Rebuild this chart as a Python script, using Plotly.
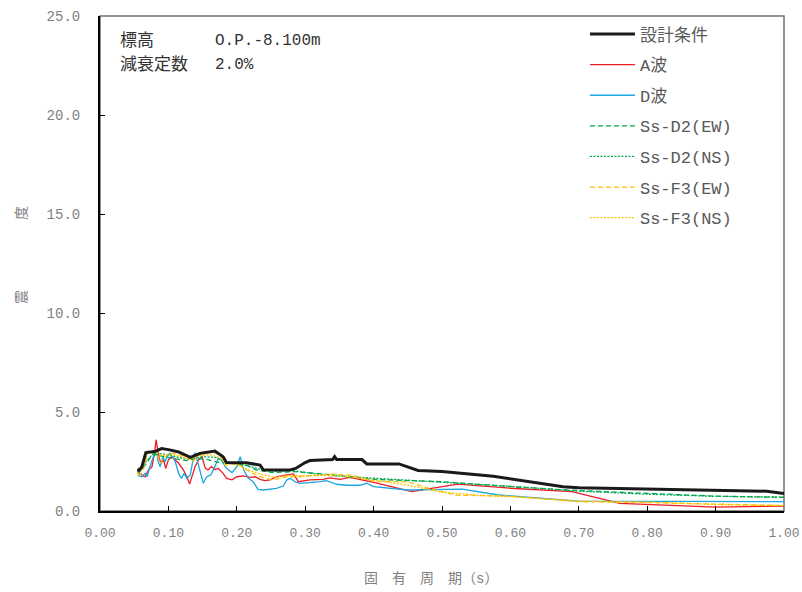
import plotly.graph_objects as go

# ---- data ----
T_design = [0.055, 0.061, 0.067, 0.080, 0.090, 0.100, 0.115, 0.132, 0.146, 0.168, 0.180, 0.185, 0.214, 0.234,
            0.239, 0.278, 0.286, 0.300, 0.307, 0.340, 0.343, 0.346, 0.383, 0.390, 0.437, 0.465, 0.500, 0.575,
            0.677, 0.700, 0.975, 1.000]
v_design = [2.0, 2.2, 2.95, 3.0, 3.15, 3.1, 2.98, 2.71, 2.91, 3.03, 2.74, 2.45, 2.44, 2.32,
            2.07, 2.07, 2.15, 2.45, 2.55, 2.6, 2.75, 2.6, 2.6, 2.38, 2.38, 2.05, 2.0, 1.75,
            1.23, 1.18, 1.0, 0.88]

T_A = [0.055, 0.061, 0.066, 0.071, 0.076, 0.080, 0.082, 0.084, 0.086, 0.089, 0.093, 0.096, 0.100, 0.105,
       0.110, 0.115, 0.122, 0.127, 0.131, 0.134, 0.139, 0.144, 0.149, 0.154, 0.158, 0.163, 0.168, 0.173,
       0.180, 0.185, 0.193, 0.200, 0.210, 0.219, 0.227, 0.234, 0.241, 0.249, 0.258, 0.273, 0.283, 0.290,
       0.307, 0.326, 0.336, 0.351, 0.365, 0.400, 0.456, 0.523, 0.600, 0.690, 0.760, 0.900, 1.000]
v_A = [2.0, 1.82, 1.73, 2.07, 2.24, 3.0, 3.6, 3.17, 2.74, 2.41, 2.58, 2.15, 2.58, 2.74,
       2.58, 2.41, 2.07, 1.73, 1.36, 1.73, 2.24, 2.58, 2.74, 2.15, 2.07, 2.24, 2.1, 2.15,
       1.9, 1.65, 1.57, 1.73, 1.77, 1.7, 1.73, 1.6, 1.53, 1.57, 1.73, 1.82, 1.87, 1.48,
       1.57, 1.6, 1.67, 1.6, 1.7, 1.45, 0.98, 1.36, 1.15, 0.98, 0.39, 0.2, 0.25]

T_D = [0.055, 0.061, 0.066, 0.069, 0.073, 0.078, 0.083, 0.085, 0.088, 0.092, 0.095, 0.098, 0.102, 0.106,
       0.110, 0.115, 0.119, 0.123, 0.127, 0.132, 0.135, 0.139, 0.142, 0.146, 0.151, 0.156, 0.162, 0.168,
       0.173, 0.178, 0.183, 0.188, 0.193, 0.200, 0.205, 0.210, 0.217, 0.224, 0.231, 0.239, 0.249, 0.258,
       0.268, 0.273, 0.278, 0.285, 0.292, 0.307, 0.322, 0.331, 0.346, 0.361, 0.380, 0.390, 0.400, 0.450,
       0.530, 0.580, 0.700, 1.000]
v_D = [1.8, 1.73, 1.9, 1.73, 2.24, 2.74, 2.91, 2.49, 2.24, 2.74, 2.49, 2.74, 2.91, 2.74,
       2.49, 1.9, 1.65, 1.9, 1.65, 1.82, 2.41, 2.95, 2.58, 2.07, 1.4, 1.73, 1.82, 2.24,
       2.66, 2.58, 2.24, 2.07, 1.94, 2.24, 2.74, 2.07, 1.65, 1.48, 1.09, 1.06, 1.09, 1.14,
       1.26, 1.57, 1.65, 1.48, 1.4, 1.43, 1.48, 1.53, 1.35, 1.3, 1.3, 1.4, 1.23, 1.06,
       1.1, 0.82, 0.5, 0.47]

T_D2EW = [0.055, 0.061, 0.071, 0.078, 0.093, 0.112, 0.127, 0.141, 0.156, 0.175, 0.200, 0.214, 0.229, 0.253,
          0.283, 0.317, 0.365, 0.400, 0.500, 0.600, 0.700, 0.800, 0.900, 1.000]
v_D2EW = [1.9, 2.07, 2.58, 2.91, 2.74, 2.61, 2.54, 2.66, 2.61, 2.44, 2.37, 2.32, 2.07, 1.94,
          1.99, 1.9, 1.73, 1.6, 1.48, 1.23, 1.03, 0.88, 0.75, 0.69]

T_D2NS = [0.055, 0.065, 0.075, 0.090, 0.110, 0.130, 0.150, 0.170, 0.180, 0.200, 0.220, 0.240, 0.260, 0.280,
          0.300, 0.330, 0.370, 0.400, 0.500, 0.600, 0.700, 0.800, 0.900, 1.000]
v_D2NS = [2.1, 2.4, 2.8, 2.9, 2.75, 2.6, 2.75, 2.7, 2.5, 2.4, 2.25, 2.05, 2.0, 2.05,
          1.95, 1.8, 1.72, 1.65, 1.45, 1.25, 1.0, 0.85, 0.74, 0.7]

T_F3EW = [0.055, 0.061, 0.066, 0.069, 0.076, 0.083, 0.088, 0.093, 0.100, 0.107, 0.117, 0.127, 0.136, 0.141,
          0.151, 0.161, 0.170, 0.178, 0.183, 0.200, 0.214, 0.234, 0.253, 0.273, 0.292, 0.326, 0.340, 0.370,
          0.400, 0.450, 0.480, 0.520, 0.600, 0.700, 0.800, 0.900, 1.000]
v_F3EW = [1.8, 1.9, 2.41, 3.0, 3.08, 2.91, 2.41, 2.66, 2.91, 2.91, 2.83, 2.74, 2.49, 2.74,
          2.91, 2.95, 2.91, 2.74, 2.32, 2.41, 2.07, 1.73, 1.57, 1.73, 1.73, 1.82, 1.87, 1.8,
          1.5, 1.48, 1.15, 0.8, 0.75, 0.47, 0.43, 0.35, 0.28]

T_F3NS = [0.055, 0.062, 0.070, 0.080, 0.090, 0.100, 0.115, 0.130, 0.145, 0.160, 0.175, 0.185, 0.200, 0.215,
          0.235, 0.255, 0.275, 0.300, 0.330, 0.360, 0.400, 0.450, 0.500, 0.550, 0.600, 0.700, 0.800, 0.900,
          1.000]
v_F3NS = [1.9, 2.3, 2.9, 3.0, 2.8, 2.85, 2.8, 2.6, 2.8, 2.85, 2.7, 2.4, 2.35, 2.1,
          1.85, 1.7, 1.8, 1.78, 1.8, 1.75, 1.55, 1.3, 0.95, 0.8, 0.72, 0.5, 0.45, 0.32, 0.27]

series_names = ["設計条件", "A波", "D波", "Ss-D2(EW)", "Ss-D2(NS)", "Ss-F3(EW)", "Ss-F3(NS)"]
x_ticks = [0.0, 0.1, 0.2, 0.3, 0.4, 0.5, 0.6, 0.7, 0.8, 0.9, 1.0]
y_ticks = [0.0, 5.0, 10.0, 15.0, 20.0, 25.0]

FONT = "Liberation Mono, Noto Sans CJK JP, monospace"
GRAY = "#7f7f7f"

styles = [
    (T_design, v_design, "#1a1a1a", 3.0, "solid"),
    (T_A, v_A, "#ee1c25", 1.3, "solid"),
    (T_D, v_D, "#1ca6e0", 1.3, "solid"),
    (T_D2EW, v_D2EW, "#00a84f", 1.3, "5px,3px"),
    (T_D2NS, v_D2NS, "#00a84f", 1.3, "2px,1.5px"),
    (T_F3EW, v_F3EW, "#ffc000", 1.3, "5px,3px"),
    (T_F3NS, v_F3NS, "#ffc000", 1.3, "2px,1.5px"),
]

fig = go.Figure()
order = [1, 2, 3, 4, 5, 6, 0]
for i in order:
    xs, ys, col, w, dash = styles[i]
    fig.add_trace(go.Scatter(
        x=xs, y=ys, mode="lines", name=series_names[i],
        line=dict(color=col, width=w, dash=dash),
        legendgroup=f"g{i}", legendrank=i + 1,
    ))

ann_font = dict(size=17, color="#333333", family=FONT)
fig.update_layout(
    width=802, height=592,
    margin=dict(l=100, r=18, t=16, b=81, autoexpand=False),
    paper_bgcolor="white", plot_bgcolor="white",
    font=dict(family=FONT, size=14, color=GRAY),
    showlegend=True,
    legend=dict(
        x=0.709, y=0.999, xanchor="left", yanchor="top",
        bgcolor="rgba(0,0,0,0)", font=dict(size=17, color="#595959", family=FONT),
        tracegroupgap=5.5, traceorder="grouped", itemwidth=45,
    ),
    xaxis=dict(
        range=[0, 1], tickvals=x_ticks, tickformat=".2f",
        ticks="inside", ticklen=5, tickcolor="black", tickwidth=1,
        showline=True, linecolor="black", linewidth=2, mirror=False,
        showgrid=False, zeroline=False,
        tickfont=dict(family=FONT, size=13, color=GRAY),
        ticklabelstandoff=8, ticklabeloverflow="allow",
    ),
    yaxis=dict(
        range=[0, 25], tickvals=y_ticks, tickformat=".1f",
        ticks="inside", ticklen=5, tickcolor="black", tickwidth=1,
        showline=True, linecolor="black", linewidth=2, mirror=False,
        showgrid=False, zeroline=False,
        tickfont=dict(family=FONT, size=14, color=GRAY),
        ticklabelstandoff=15,
    ),
    shapes=[dict(type="rect", xref="paper", yref="paper", x0=0, y0=0, x1=1, y1=1,
                 line=dict(color="#6f6f6f", width=1.5), layer="below")],
    annotations=[
        dict(text="標高", x=0.026, y=0.950, xref="paper", yref="paper", xanchor="left", yanchor="middle",
             showarrow=False, font=ann_font),
        dict(text="O.P.-8.100m", x=0.165, y=0.950, xref="paper", yref="paper", xanchor="left",
             yanchor="middle", showarrow=False, font=dict(size=16, color="#333333", family=FONT)),
        dict(text="減衰定数", x=0.026, y=0.901, xref="paper", yref="paper", xanchor="left", yanchor="middle",
             showarrow=False, font=ann_font),
        dict(text="2.0%", x=0.165, y=0.901, xref="paper", yref="paper", xanchor="left", yanchor="middle",
             showarrow=False, font=dict(size=16, color="#333333", family=FONT)),
        dict(text="固　有　周　期（s）", x=0.484, y=-0.137, xref="paper", yref="paper",
             xanchor="center", yanchor="middle", showarrow=False,
             font=dict(size=14, color=GRAY, family=FONT)),
        dict(text="震　　　　　度", x=-0.114, y=0.517, xref="paper", yref="paper", textangle=-90,
             xanchor="center", yanchor="middle", showarrow=False,
             font=dict(size=14, color=GRAY, family=FONT)),
    ],
)

fig.write_html("out.html",
               config={"displayModeBar": False},
               post_script="document.body.style.margin='0';document.body.style.overflow='hidden';")
